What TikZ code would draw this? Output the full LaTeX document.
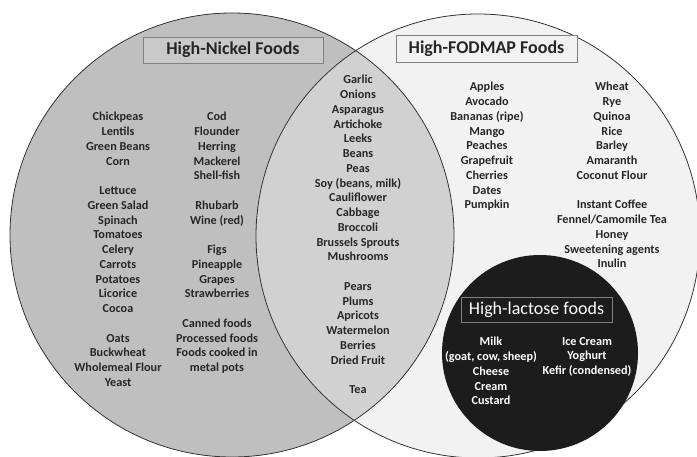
\documentclass[tikz,border=0pt]{standalone}
\usepackage{fontspec}
\setmainfont{Carlito}
\usepackage{tikz}
\definecolor{nickelgray}{HTML}{BFBFBF}
\definecolor{lensgray}{HTML}{D1D1D1}
\definecolor{fodgray}{HTML}{F2F2F2}
\definecolor{lacblack}{HTML}{1C1C1C}
\definecolor{ink}{HTML}{262626}

\begin{document}
\begin{tikzpicture}[x=1pt, y=-1pt,
        food/.style={align=center, anchor=north, inner sep=0pt, text=ink, font=\fontsize{12.2}{14.75}\selectfont\bfseries},
        lacfood/.style={food, text=white},
        title/.style={draw=gray, line width=0.8pt, text=ink, inner sep=0pt, font=\fontsize{18}{20}\selectfont\bfseries}]
                \useasboundingbox (0,0) rectangle (697,457);
                \clip (0,0) rectangle (697,457);
                \coordinate (L) at (232,235);
                \coordinate (R) at (478,236);
                \coordinate (K) at (540,353);
                \fill[nickelgray] (L) circle[radius=222pt];
                \fill[fodgray] (R) circle[radius=222pt];
                \begin{scope}
                    \clip (L) circle[radius=222pt];
                    \fill[lensgray] (R) circle[radius=222pt];
                \end{scope}
                \draw[black!80, line width=0.8pt] (L) circle[radius=222pt];
                \draw[black!80, line width=0.8pt] (R) circle[radius=222pt];
                \fill[lacblack] (K) circle[radius=98pt];
                \node[title, fill=nickelgray!85!white, minimum width=180pt, minimum height=26pt] (nickel) at (233,50) {High-Nickel Foods};
                \node[title, fill=fodgray, minimum width=181pt, minimum height=27pt] (fodmap) at (486.5,48.5) {High-FODMAP Foods};
                \node[title, fill=lacblack, text=white, minimum width=151pt, minimum height=25pt, font=\fontsize{18}{20}\selectfont] (lactose) at (536.5,309.5) {High-lactose foods};
                \node[food] (nickelA) at (118,112) {Chickpeas\\Lentils\\Green Beans\\Corn\\~\\Lettuce\\Green Salad\\Spinach\\Tomatoes\\Celery\\Carrots\\Potatoes\\Licorice\\Cocoa\\~\\Oats\\Buckwheat\\Wholemeal Flour\\Yeast};
                \node[food] (nickelB) at (217,112) {Cod\\Flounder\\Herring\\Mackerel\\Shell-fish\\~\\Rhubarb\\Wine (red)\\~\\Figs\\Pineapple\\Grapes\\Strawberries\\~\\Canned foods\\Processed foods\\Foods cooked in\\metal pots};
                \node[food] (both) at (358,75) {Garlic\\Onions\\Asparagus\\Artichoke\\Leeks\\Beans\\Peas\\Soy (beans, milk)\\Cauliflower\\Cabbage\\Broccoli\\Brussels Sprouts\\Mushrooms\\~\\Pears\\Plums\\Apricots\\Watermelon\\Berries\\Dried Fruit\\~\\Tea};
                \node[food] (fodmapA) at (487,82) {Apples\\Avocado\\Bananas (ripe)\\Mango\\Peaches\\Grapefruit\\Cherries\\Dates\\Pumpkin};
                \node[food] (fodmapB) at (612,82) {Wheat\\Rye\\Quinoa\\Rice\\Barley\\Amaranth\\Coconut Flour\\~\\Instant Coffee\\Fennel/Camomile Tea\\Honey\\Sweetening agents\\Inulin};
                \node[lacfood] (lactoseA) at (491,337) {Milk\\(goat, cow, sheep)\\Cheese\\Cream\\Custard};
                \node[lacfood] (lactoseB) at (587,337) {Ice Cream\\Yoghurt\\Kefir (condensed)};
            \end{tikzpicture}
\end{document}
